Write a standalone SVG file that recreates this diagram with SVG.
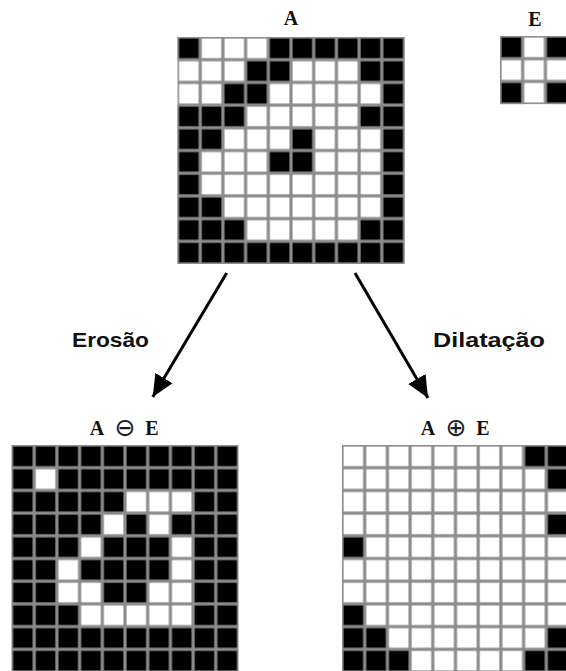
<svg xmlns="http://www.w3.org/2000/svg" xmlns:xlink="http://www.w3.org/1999/xlink" width="566" height="671" viewBox="0 0 566 671">
<defs>
<style>
.t{font-family:"Liberation Serif","Times New Roman",serif;font-weight:bold;font-size:20px;fill:#111;text-anchor:middle}
.op{font-family:"DejaVu Sans","Liberation Sans",sans-serif;font-weight:normal;font-size:25px;fill:#1a1a2a}
.l{font-family:"Liberation Sans",Arial,sans-serif;font-weight:bold;font-size:21px;fill:#111}
.w{fill:url(#pw)}
.b{fill:url(#pb)}
.c{stroke:#000;stroke-width:3;fill:none;marker-end:url(#ah)}
</style>
<pattern id="pw" patternUnits="userSpaceOnUse" x="0" y="0" width="22.7" height="22.7">
<rect width="22.7" height="22.7" fill="#8c8c8c"/>
<rect x="1.6" y="1.6" width="19.5" height="19.5" fill="#fff"/>
</pattern>
<pattern id="pb" patternUnits="userSpaceOnUse" x="0" y="0" width="22.7" height="22.7">
<rect width="22.7" height="22.7" fill="#8c8c8c"/>
<rect x="1.6" y="1.6" width="19.5" height="19.5" fill="#000"/>
</pattern>
<marker id="ah" markerUnits="userSpaceOnUse" markerWidth="24" markerHeight="22" refX="22" refY="10" orient="auto" viewBox="0 0 24 20">
<path d="M0,0 L22,10 L0,20 Z" fill="#000"/>
</marker>
</defs>
<rect width="566" height="671" fill="#fff"/>

<g id="gridA">
<text class="t" x="291" y="25">A</text>
<g transform="translate(177.5,37)">
<rect class="w" x="0" y="0" width="227" height="227"/>
<rect class="b" x="0" y="0" width="22.7" height="22.7"/>
<rect class="b" x="90.8" y="0" width="136.2" height="22.7"/>
<rect class="b" x="68.1" y="22.7" width="45.4" height="22.7"/>
<rect class="b" x="181.6" y="22.7" width="45.4" height="22.7"/>
<rect class="b" x="45.4" y="45.4" width="45.4" height="22.7"/>
<rect class="b" x="204.3" y="45.4" width="22.7" height="22.7"/>
<rect class="b" x="0" y="68.1" width="68.1" height="22.7"/>
<rect class="b" x="181.6" y="68.1" width="45.4" height="22.7"/>
<rect class="b" x="0" y="90.8" width="45.4" height="22.7"/>
<rect class="b" x="113.5" y="90.8" width="22.7" height="22.7"/>
<rect class="b" x="204.3" y="90.8" width="22.7" height="22.7"/>
<rect class="b" x="0" y="113.5" width="22.7" height="22.7"/>
<rect class="b" x="90.8" y="113.5" width="45.4" height="22.7"/>
<rect class="b" x="204.3" y="113.5" width="22.7" height="22.7"/>
<rect class="b" x="0" y="136.2" width="22.7" height="22.7"/>
<rect class="b" x="204.3" y="136.2" width="22.7" height="22.7"/>
<rect class="b" x="0" y="158.9" width="45.4" height="22.7"/>
<rect class="b" x="204.3" y="158.9" width="22.7" height="22.7"/>
<rect class="b" x="0" y="181.6" width="68.1" height="22.7"/>
<rect class="b" x="181.6" y="181.6" width="45.4" height="22.7"/>
<rect class="b" x="0" y="204.3" width="227" height="22.7"/>
</g>
</g>

<g id="gridE">
<text class="t" x="535" y="26">E</text>
<g transform="translate(500,36)">
<rect class="w" x="0" y="0" width="68.1" height="68.1"/>
<rect class="b" x="0" y="0" width="22.7" height="22.7"/>
<rect class="b" x="45.4" y="0" width="22.7" height="22.7"/>
<rect class="b" x="0" y="45.4" width="22.7" height="22.7"/>
<rect class="b" x="45.4" y="45.4" width="22.7" height="22.7"/>
</g>
</g>

<g id="connectors">
<line class="c" x1="226.7" y1="273" x2="152.7" y2="397"/>
<line class="c" x1="355" y1="273" x2="428" y2="398"/>
</g>

<g id="labelErosao">
<text class="l" x="72" y="347" textLength="77" lengthAdjust="spacingAndGlyphs">Erosão</text>
</g>
<g id="labelDilatacao">
<text class="l" x="433" y="347" textLength="112" lengthAdjust="spacingAndGlyphs">Dilatação</text>
</g>

<g id="gridErosion">
<text class="t" y="435"><tspan x="97">A</tspan><tspan class="op" x="125" y="436">⊖</tspan><tspan x="152" y="435">E</tspan></text>
<g transform="translate(11.5,445)">
<rect class="b" x="0" y="0" width="227" height="227"/>
<rect class="w" x="22.7" y="22.7" width="22.7" height="22.7"/>
<rect class="w" x="113.5" y="45.4" width="68.1" height="22.7"/>
<rect class="w" x="90.8" y="68.1" width="22.7" height="22.7"/>
<rect class="w" x="136.2" y="68.1" width="22.7" height="22.7"/>
<rect class="w" x="68.1" y="90.8" width="22.7" height="22.7"/>
<rect class="w" x="158.9" y="90.8" width="22.7" height="22.7"/>
<rect class="w" x="45.4" y="113.5" width="22.7" height="22.7"/>
<rect class="w" x="158.9" y="113.5" width="22.7" height="22.7"/>
<rect class="w" x="45.4" y="136.2" width="45.4" height="22.7"/>
<rect class="w" x="136.2" y="136.2" width="45.4" height="22.7"/>
<rect class="w" x="68.1" y="158.9" width="113.5" height="22.7"/>
</g>
</g>

<g id="gridDilation">
<text class="t" y="435"><tspan x="428">A</tspan><tspan class="op" x="456" y="436">⊕</tspan><tspan x="483" y="435">E</tspan></text>
<g transform="translate(342,445)">
<rect class="w" x="0" y="0" width="227" height="227"/>
<rect class="b" x="181.6" y="0" width="45.4" height="22.7"/>
<rect class="b" x="204.3" y="22.7" width="22.7" height="22.7"/>
<rect class="b" x="204.3" y="68.1" width="22.7" height="22.7"/>
<rect class="b" x="0" y="90.8" width="22.7" height="22.7"/>
<rect class="b" x="0" y="158.9" width="22.7" height="22.7"/>
<rect class="b" x="0" y="181.6" width="45.4" height="22.7"/>
<rect class="b" x="204.3" y="181.6" width="22.7" height="22.7"/>
<rect class="b" x="0" y="204.3" width="68.1" height="22.7"/>
<rect class="b" x="181.6" y="204.3" width="45.4" height="22.7"/>
</g>
</g>
</svg>
